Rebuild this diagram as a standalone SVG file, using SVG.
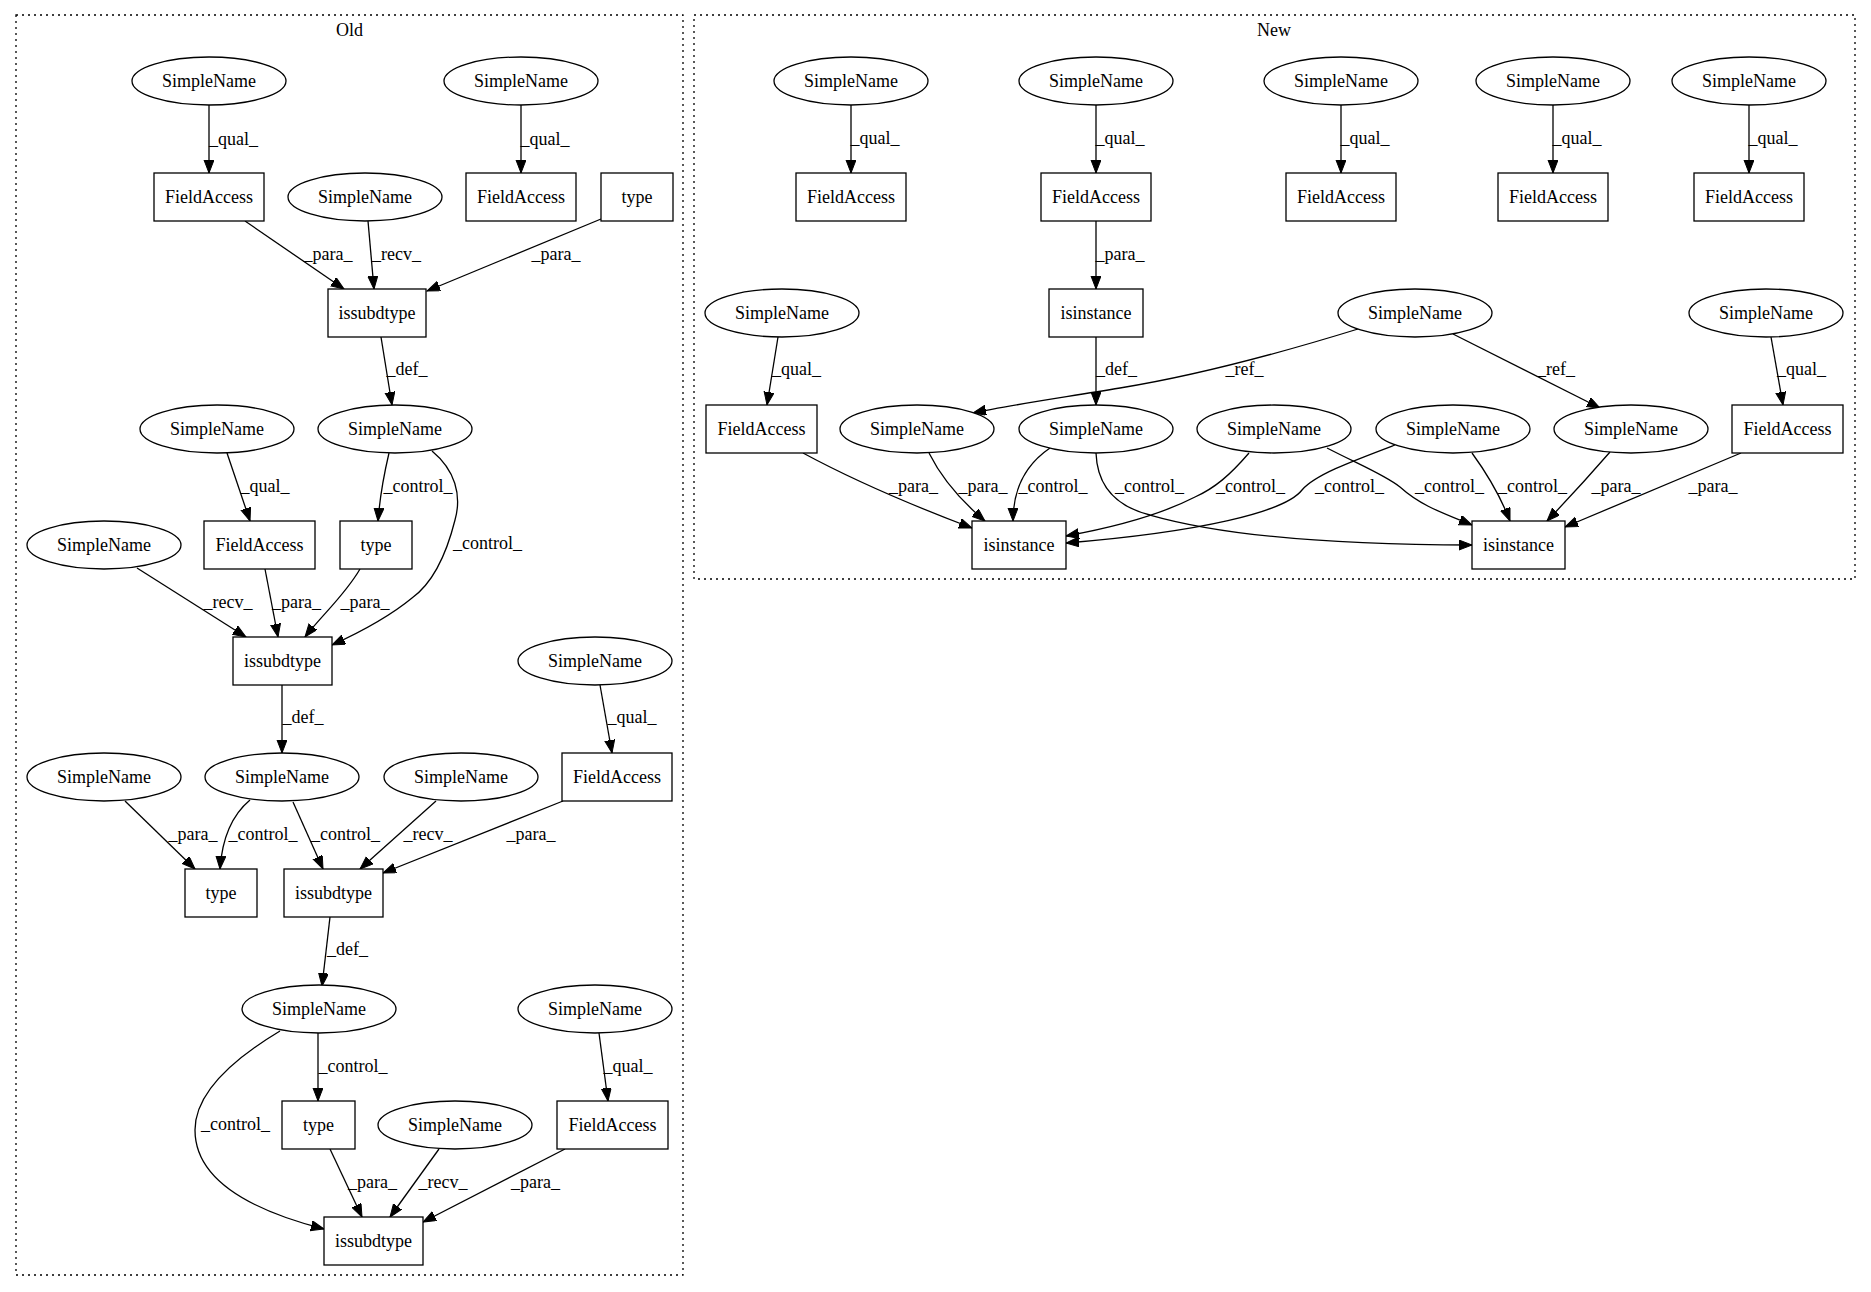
<svg xmlns="http://www.w3.org/2000/svg" width="1871" height="1292" viewBox="0 0 1871 1292">
<style>
.n ellipse,.n rect{fill:#fff;stroke:#000;stroke-width:1.3}
text{font-family:"Liberation Serif","Times New Roman",serif;font-size:18px;text-anchor:middle;fill:#000}
.e path{fill:none;stroke:#000;stroke-width:1.3;marker-end:url(#ah)}
.cl{fill:none;stroke:#000;stroke-width:1.3;stroke-dasharray:2,4}
</style>
<defs>
<marker id="ah" markerWidth="14" markerHeight="11" refX="13" refY="5" orient="auto" markerUnits="userSpaceOnUse"><path d="M0,0 L13,5 L0,10 z" fill="#000" stroke="#000" stroke-width="1"/></marker>
</defs>
<rect width="1871" height="1292" fill="#fff"/>
<g id="cluster_old"><rect class="cl" x="16" y="15" width="667" height="1260"/><text x="349.5" y="36">Old</text></g>
<g id="cluster_new"><rect class="cl" x="694" y="15" width="1161" height="564"/><text x="1274" y="36">New</text></g>

<g id="edges" class="e">
<!-- Old -->
<path d="M209,105 L209,173"/>
<path d="M521,105 L521,173"/>
<path d="M245,221 L344,289"/>
<path d="M368,221 L374,289"/>
<path d="M601,219 L427,291"/>
<path d="M381,337 L392,405"/>
<path d="M227,453 L250,521"/>
<path d="M389,453 C385,470 380,495 378,521"/>
<path d="M432,451 C455,470 462,495 455,520 C445,560 430,585 412,598 C395,612 365,630 332,645"/>
<path d="M137,568 L246,637"/>
<path d="M265,569 L278,637"/>
<path d="M360,569 C345,595 322,615 305,637"/>
<path d="M282,685 L282,753"/>
<path d="M600,685 L612,753"/>
<path d="M125,801 L195,869"/>
<path d="M250,800 C232,815 222,840 220,869"/>
<path d="M293,802 L323,869"/>
<path d="M436,801 L360,869"/>
<path d="M563,801 L383,873"/>
<path d="M330,917 L322,986"/>
<path d="M599,1033 L608,1101"/>
<path d="M318,1033 L318,1101"/>
<path d="M280,1031 C240,1055 195,1090 195,1130 C195,1180 250,1210 324,1229"/>
<path d="M330,1149 L362,1217"/>
<path d="M439,1149 L390,1217"/>
<path d="M565,1149 L423,1222"/>
<!-- New -->
<path d="M851,105 L851,173"/>
<path d="M1096,105 L1096,173"/>
<path d="M1341,105 L1341,173"/>
<path d="M1553,105 L1553,173"/>
<path d="M1749,105 L1749,173"/>
<path d="M1096,221 L1096,289"/>
<path d="M1096,337 L1096,405"/>
<path d="M778,337 L767,405"/>
<path d="M1358,329 C1290,350 1200,375 1120,388 C1060,398 1010,405 973,413"/>
<path d="M1453,334 L1600,408"/>
<path d="M1771,337 L1783,405"/>
<path d="M803,453 C840,473 890,497 972,528"/>
<path d="M929,453 C940,475 960,500 985,521"/>
<path d="M1050,448 C1025,465 1013,490 1013,521"/>
<path d="M1096,453 C1097,480 1110,505 1150,515 C1220,535 1330,545 1472,545"/>
<path d="M1249,453 C1230,475 1215,488 1195,497 C1160,515 1110,528 1066,536"/>
<path d="M1327,448 C1360,465 1385,475 1400,487 C1420,505 1440,512 1472,525"/>
<path d="M1395,445 C1350,462 1315,475 1302,490 C1285,512 1200,532 1066,543"/>
<path d="M1472,453 C1488,475 1500,495 1510,521"/>
<path d="M1610,452 C1590,475 1570,497 1547,521"/>
<path d="M1741,453 L1565,527"/>
</g>

<g id="edge_labels">
<text x="233.5" y="145">_qual_</text>
<text x="545" y="145">_qual_</text>
<text x="328" y="260">_para_</text>
<text x="396.5" y="260">_recv_</text>
<text x="556" y="260">_para_</text>
<text x="407" y="375">_def_</text>
<text x="265" y="492">_qual_</text>
<text x="418" y="492">_control_</text>
<text x="487.5" y="549">_control_</text>
<text x="228" y="608">_recv_</text>
<text x="296.5" y="608">_para_</text>
<text x="365" y="608">_para_</text>
<text x="303" y="723">_def_</text>
<text x="632" y="723">_qual_</text>
<text x="193" y="840">_para_</text>
<text x="263" y="840">_control_</text>
<text x="345.5" y="840">_control_</text>
<text x="428" y="840">_recv_</text>
<text x="531" y="840">_para_</text>
<text x="347.5" y="955">_def_</text>
<text x="353" y="1072">_control_</text>
<text x="628" y="1072">_qual_</text>
<text x="235.5" y="1130">_control_</text>
<text x="372.5" y="1188">_para_</text>
<text x="443" y="1188">_recv_</text>
<text x="535.5" y="1188">_para_</text>
<text x="875" y="144">_qual_</text>
<text x="1120" y="144">_qual_</text>
<text x="1365" y="144">_qual_</text>
<text x="1577" y="144">_qual_</text>
<text x="1773" y="144">_qual_</text>
<text x="1120" y="260">_para_</text>
<text x="1116.5" y="375">_def_</text>
<text x="796.5" y="375">_qual_</text>
<text x="1244.5" y="375">_ref_</text>
<text x="1556" y="375">_ref_</text>
<text x="1801.5" y="375">_qual_</text>
<text x="913.5" y="492">_para_</text>
<text x="983" y="492">_para_</text>
<text x="1053" y="492">_control_</text>
<text x="1149.5" y="492">_control_</text>
<text x="1250.5" y="492">_control_</text>
<text x="1349.5" y="492">_control_</text>
<text x="1449.5" y="492">_control_</text>
<text x="1532.5" y="492">_control_</text>
<text x="1616" y="492">_para_</text>
<text x="1713" y="492">_para_</text>
</g>

<!-- Old nodes -->
<g id="o_sn1" class="n"><ellipse cx="209" cy="81" rx="77" ry="24"/><text x="209" y="87">SimpleName</text></g>
<g id="o_sn2" class="n"><ellipse cx="521" cy="81" rx="77" ry="24"/><text x="521" y="87">SimpleName</text></g>
<g id="o_fa1" class="n"><rect x="154" y="173" width="110" height="48"/><text x="209" y="203">FieldAccess</text></g>
<g id="o_sn3" class="n"><ellipse cx="365" cy="197" rx="77" ry="24"/><text x="365" y="203">SimpleName</text></g>
<g id="o_fa2" class="n"><rect x="466" y="173" width="110" height="48"/><text x="521" y="203">FieldAccess</text></g>
<g id="o_type1" class="n"><rect x="601" y="173" width="72" height="48"/><text x="637" y="203">type</text></g>
<g id="o_isd1" class="n"><rect x="328" y="289" width="98" height="48"/><text x="377" y="319">issubdtype</text></g>
<g id="o_sn4" class="n"><ellipse cx="217" cy="429" rx="77" ry="24"/><text x="217" y="435">SimpleName</text></g>
<g id="o_sn5" class="n"><ellipse cx="395" cy="429" rx="77" ry="24"/><text x="395" y="435">SimpleName</text></g>
<g id="o_fa3" class="n"><rect x="204" y="521" width="111" height="48"/><text x="259.5" y="551">FieldAccess</text></g>
<g id="o_type2" class="n"><rect x="340" y="521" width="72" height="48"/><text x="376" y="551">type</text></g>
<g id="o_sn6" class="n"><ellipse cx="104" cy="545" rx="77" ry="24"/><text x="104" y="551">SimpleName</text></g>
<g id="o_isd2" class="n"><rect x="233" y="637" width="99" height="48"/><text x="282.5" y="667">issubdtype</text></g>
<g id="o_sn7" class="n"><ellipse cx="595" cy="661" rx="77" ry="24"/><text x="595" y="667">SimpleName</text></g>
<g id="o_fa4" class="n"><rect x="562" y="753" width="110" height="48"/><text x="617" y="783">FieldAccess</text></g>
<g id="o_sn8" class="n"><ellipse cx="104" cy="777" rx="77" ry="24"/><text x="104" y="783">SimpleName</text></g>
<g id="o_sn9" class="n"><ellipse cx="282" cy="777" rx="77" ry="24"/><text x="282" y="783">SimpleName</text></g>
<g id="o_sn10" class="n"><ellipse cx="461" cy="777" rx="77" ry="24"/><text x="461" y="783">SimpleName</text></g>
<g id="o_type3" class="n"><rect x="185" y="869" width="72" height="48"/><text x="221" y="899">type</text></g>
<g id="o_isd3" class="n"><rect x="284" y="869" width="99" height="48"/><text x="333.5" y="899">issubdtype</text></g>
<g id="o_sn11" class="n"><ellipse cx="319" cy="1009" rx="77" ry="24"/><text x="319" y="1015">SimpleName</text></g>
<g id="o_sn12" class="n"><ellipse cx="595" cy="1009" rx="77" ry="24"/><text x="595" y="1015">SimpleName</text></g>
<g id="o_type4" class="n"><rect x="282" y="1101" width="73" height="48"/><text x="318.5" y="1131">type</text></g>
<g id="o_sn13" class="n"><ellipse cx="455" cy="1125" rx="77" ry="24"/><text x="455" y="1131">SimpleName</text></g>
<g id="o_fa5" class="n"><rect x="557" y="1101" width="111" height="48"/><text x="612.5" y="1131">FieldAccess</text></g>
<g id="o_isd4" class="n"><rect x="324" y="1217" width="99" height="48"/><text x="373.5" y="1247">issubdtype</text></g>

<!-- New nodes -->
<g id="n_sn1" class="n"><ellipse cx="851" cy="81" rx="77" ry="24"/><text x="851" y="87">SimpleName</text></g>
<g id="n_sn2" class="n"><ellipse cx="1096" cy="81" rx="77" ry="24"/><text x="1096" y="87">SimpleName</text></g>
<g id="n_sn3" class="n"><ellipse cx="1341" cy="81" rx="77" ry="24"/><text x="1341" y="87">SimpleName</text></g>
<g id="n_sn4" class="n"><ellipse cx="1553" cy="81" rx="77" ry="24"/><text x="1553" y="87">SimpleName</text></g>
<g id="n_sn5" class="n"><ellipse cx="1749" cy="81" rx="77" ry="24"/><text x="1749" y="87">SimpleName</text></g>
<g id="n_fa1" class="n"><rect x="796" y="173" width="110" height="48"/><text x="851" y="203">FieldAccess</text></g>
<g id="n_fa2" class="n"><rect x="1041" y="173" width="110" height="48"/><text x="1096" y="203">FieldAccess</text></g>
<g id="n_fa3" class="n"><rect x="1286" y="173" width="110" height="48"/><text x="1341" y="203">FieldAccess</text></g>
<g id="n_fa4" class="n"><rect x="1498" y="173" width="110" height="48"/><text x="1553" y="203">FieldAccess</text></g>
<g id="n_fa5" class="n"><rect x="1694" y="173" width="110" height="48"/><text x="1749" y="203">FieldAccess</text></g>
<g id="n_isi1" class="n"><rect x="1049" y="289" width="94" height="48"/><text x="1096" y="319">isinstance</text></g>
<g id="n_sn6" class="n"><ellipse cx="782" cy="313" rx="77" ry="24"/><text x="782" y="319">SimpleName</text></g>
<g id="n_sn7" class="n"><ellipse cx="1415" cy="313" rx="77" ry="24"/><text x="1415" y="319">SimpleName</text></g>
<g id="n_sn8" class="n"><ellipse cx="1766" cy="313" rx="77" ry="24"/><text x="1766" y="319">SimpleName</text></g>
<g id="n_fa6" class="n"><rect x="706" y="405" width="111" height="48"/><text x="761.5" y="435">FieldAccess</text></g>
<g id="n_sn9" class="n"><ellipse cx="917" cy="429" rx="77" ry="24"/><text x="917" y="435">SimpleName</text></g>
<g id="n_sn10" class="n"><ellipse cx="1096" cy="429" rx="77" ry="24"/><text x="1096" y="435">SimpleName</text></g>
<g id="n_sn11" class="n"><ellipse cx="1274" cy="429" rx="77" ry="24"/><text x="1274" y="435">SimpleName</text></g>
<g id="n_sn12" class="n"><ellipse cx="1453" cy="429" rx="77" ry="24"/><text x="1453" y="435">SimpleName</text></g>
<g id="n_sn13" class="n"><ellipse cx="1631" cy="429" rx="77" ry="24"/><text x="1631" y="435">SimpleName</text></g>
<g id="n_fa7" class="n"><rect x="1732" y="405" width="111" height="48"/><text x="1787.5" y="435">FieldAccess</text></g>
<g id="n_isi2" class="n"><rect x="972" y="521" width="94" height="48"/><text x="1019" y="551">isinstance</text></g>
<g id="n_isi3" class="n"><rect x="1472" y="521" width="93" height="48"/><text x="1518.5" y="551">isinstance</text></g>
</svg>
